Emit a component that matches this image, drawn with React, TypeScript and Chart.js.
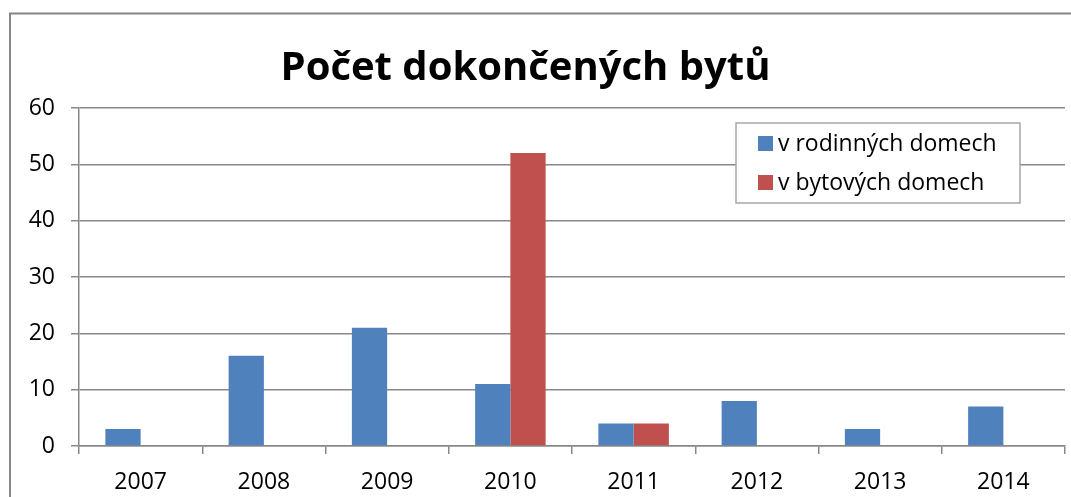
import React, { useEffect, useRef } from 'react';
import { Chart, registerables } from 'chart.js';

Chart.register(...registerables);

const title = 'Počet dokončených bytů';
const categories = ['2007', '2008', '2009', '2010', '2011', '2012', '2013', '2014'];
const seriesNames = ['v rodinných domech', 'v bytových domech'];
const rodinneDomy = [3, 16, 21, 11, 4, 8, 3, 7];
const bytoveDomy = [0, 0, 0, 52, 4, 0, 0, 0];
const seriesColors = ['#4F81BD', '#C0504D'];
const yTicks = [0, 10, 20, 30, 40, 50, 60];

const FONT = "'Open Sans', sans-serif";

const frameAndTitle = {
  id: 'frameAndTitle',
  beforeDraw(chart: any) {
    const ctx = chart.ctx;
    ctx.save();
    ctx.fillStyle = '#ffffff';
    ctx.fillRect(0, 0, chart.width, chart.height);
    ctx.strokeStyle = '#868686';
    ctx.lineWidth = 2;
    ctx.beginPath();
    ctx.moveTo(10, chart.height + 5);
    ctx.lineTo(10, 13.5);
    ctx.lineTo(chart.width + 5, 13.5);
    ctx.stroke();
    ctx.fillStyle = '#000000';
    ctx.font = `bold 40px ${FONT}`;
    ctx.textAlign = 'center';
    ctx.textBaseline = 'alphabetic';
    ctx.fillText(title, 525.5, 80);
    ctx.restore();
  },
};

const insideLegend = {
  id: 'insideLegend',
  afterDatasetsDraw(chart: any) {
    const ctx = chart.ctx;
    ctx.save();
    const x0 = 736, y0 = 123, w = 284, h = 80;
    ctx.fillStyle = '#ffffff';
    ctx.fillRect(x0, y0, w, h);
    ctx.strokeStyle = '#a6a6a6';
    ctx.lineWidth = 1.5;
    ctx.strokeRect(x0, y0, w, h);
    ctx.font = `23px ${FONT}`;
    ctx.textAlign = 'left';
    ctx.textBaseline = 'alphabetic';
    chart.data.datasets.forEach((ds: any, i: number) => {
      const base = 151 + i * 39;
      ctx.fillStyle = ds.backgroundColor;
      ctx.fillRect(758, base - 15, 15, 15);
      ctx.fillStyle = '#000000';
      ctx.fillText(ds.label, 778, base);
    });
    ctx.restore();
  },
};

export default function App() {
  const ref = useRef<HTMLCanvasElement>(null);
  useEffect(() => {
    if (!ref.current) return;
    const chart = new Chart(ref.current, {
      type: 'bar',
      data: {
        labels: categories,
        datasets: [
          { label: seriesNames[0], data: rodinneDomy, backgroundColor: seriesColors[0], borderWidth: 0 },
          { label: seriesNames[1], data: bytoveDomy, backgroundColor: seriesColors[1], borderWidth: 0 },
        ],
      },
      options: {
        responsive: false,
        animation: false,
        layout: { padding: { top: 108, right: 6, left: 0, bottom: 0 } },
        datasets: { bar: { categoryPercentage: 0.572, barPercentage: 1 } },
        plugins: {
          legend: { display: false },
          title: { display: false },
          tooltip: { enabled: false },
        },
        scales: {
          x: {
            afterFit: (s: any) => { s.height = 51; },
            grid: { drawOnChartArea: false, color: '#888888', lineWidth: 1.5, tickLength: 8, offset: true },
            border: { color: '#888888', width: 1.5 },
            ticks: { color: '#000000', font: { family: FONT, size: 23 }, padding: 15 },
          },
          y: {
            min: 0,
            max: 60,
            afterFit: (s: any) => { s.width = 79; },
            afterBuildTicks: (s: any) => { s.ticks = yTicks.map((v) => ({ value: v })); },
            grid: { color: '#888888', lineWidth: 1.5, tickLength: 8 },
            border: { color: '#888888', width: 1.5 },
            ticks: { color: '#000000', font: { family: FONT, size: 23 }, padding: 16 },
          },
        },
      },
      plugins: [frameAndTitle, insideLegend],
    });
    return () => chart.destroy();
  }, []);
  return (
    <div style={{ position: 'absolute', left: 0, top: 0, width: 1071, height: 497, overflow: 'hidden' }}>
      <canvas ref={ref} width={1071} height={497} style={{ display: 'block' }} />
    </div>
  );
}
